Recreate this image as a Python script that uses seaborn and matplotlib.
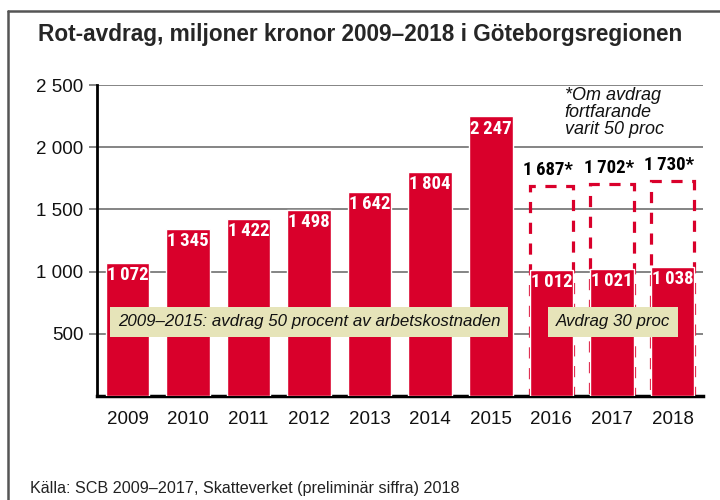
import matplotlib
matplotlib.use("Agg")
import matplotlib.pyplot as plt
import pandas as pd
import seaborn as sns

years = ["2009", "2010", "2011", "2012", "2013", "2014", "2015", "2016", "2017", "2018"]
values = [1072, 1345, 1422, 1498, 1642, 1804, 2247, 1012, 1021, 1038]
alt_years = ["2016", "2017", "2018"]
alt_values = [1687, 1702, 1730]
yticks = [500, 1000, 1500, 2000, 2500]

title = "Rot-avdrag, miljoner kronor 2009\u20132018 i Göteborgsregionen"
source = "Källa: SCB 2009\u20132017, Skatteverket (preliminär siffra) 2018"
note = "*Om avdrag\nfortfarande\nvarit 50 proc"
box1 = "2009\u20132015: avdrag 50 procent av arbetskostnaden"
box2 = "Avdrag 30 proc"

RED = "#d9002b"
BEIGE = "#e6e4b9"
NARROW = ["Liberation Sans Narrow", "Roboto Condensed", "Liberation Sans", "DejaVu Sans"]


def fmt(v, sep="\u2009"):
    return f"{v:,}".replace(",", sep)


sns.set_theme(style="white")
plt.rcParams["font.family"] = ["Liberation Sans", "DejaVu Sans"]

df = pd.DataFrame({"year": years, "value": values})
df_alt = pd.DataFrame({"year": alt_years, "value": alt_values})

fig = plt.figure(figsize=(7.2, 5.0), dpi=100)
ax = fig.add_axes([0.135, 0.208, 0.841, 0.622])

# dashed "what if" boxes
sns.barplot(data=df_alt, x="year", y="value", order=years, ax=ax, fill=False,
            edgecolor=RED, linewidth=2.3, linestyle=(0, (3.5, 3)), width=0.72, zorder=2)
sns.barplot(data=df, x="year", y="value", order=years, ax=ax, color=RED,
            saturation=1, width=0.72, zorder=3)

ax.set_ylim(0, 2500)
ax.set_xlim(-0.5, 9.5)
ax.set_yticks(yticks)
ax.set_yticklabels([fmt(t, " ") for t in yticks], fontsize=13.5, color="#111111")
ax.set_xticks(range(len(years)))
ax.set_xticklabels(years, fontsize=13.5, color="#111111")
ax.set_xlabel("")
ax.set_ylabel("")
ax.yaxis.grid(True, color="#707070", linewidth=1.2, zorder=0)
ax.set_axisbelow(True)
for side in ["top", "right"]:
    ax.spines[side].set_visible(False)
ax.spines["left"].set_color("black")
ax.spines["left"].set_linewidth(2)
ax.spines["bottom"].set_color("black")
ax.spines["bottom"].set_linewidth(2.5)
ax.tick_params(axis="y", left=True, length=6, width=1.2, color="#707070", pad=4)
ax.tick_params(axis="x", bottom=False, pad=5)

# value labels
for i, v in enumerate(values):
    ax.text(i, v - 25, fmt(v), ha="center", va="top", color="white",
            fontsize=13.5, fontweight="bold", family=NARROW, zorder=5)
for y, v in zip(alt_years, alt_values):
    i = years.index(y)
    ax.text(i - 0.05, v + 55, fmt(v) + "*", ha="center", va="bottom", color="black",
            fontsize=13.5, fontweight="bold", family=NARROW, zorder=5)

# beige annotation boxes
ax.text(3.0, 597, box1, ha="center", va="center", fontsize=12.2, style="italic",
        color="#111111", zorder=6,
        bbox=dict(boxstyle="square,pad=0.45", facecolor=BEIGE, edgecolor="none"))
ax.text(8.02, 597, box2, ha="center", va="center", fontsize=12.2, style="italic",
        color="#111111", zorder=6,
        bbox=dict(boxstyle="square,pad=0.45", facecolor=BEIGE, edgecolor="none"))

ax.text(7.22, 2480, note, ha="left", va="top", fontsize=13, style="italic",
        color="#111111", linespacing=1.0, zorder=6)

# frame, title, source
fig.add_artist(plt.Line2D([0.011, 0.011], [0.0, 0.978], color="#555555", lw=1.8))
fig.add_artist(plt.Line2D([0.011, 1.0], [0.978, 0.978], color="#555555", lw=1.8))
fig.text(0.053, 0.93, title, ha="left", va="center", fontsize=16.3, fontweight="bold")
fig.text(0.042, 0.022, source, ha="left", va="center", fontsize=11.6, color="#222222")

fig.savefig("out.png", dpi=100, facecolor="white")
